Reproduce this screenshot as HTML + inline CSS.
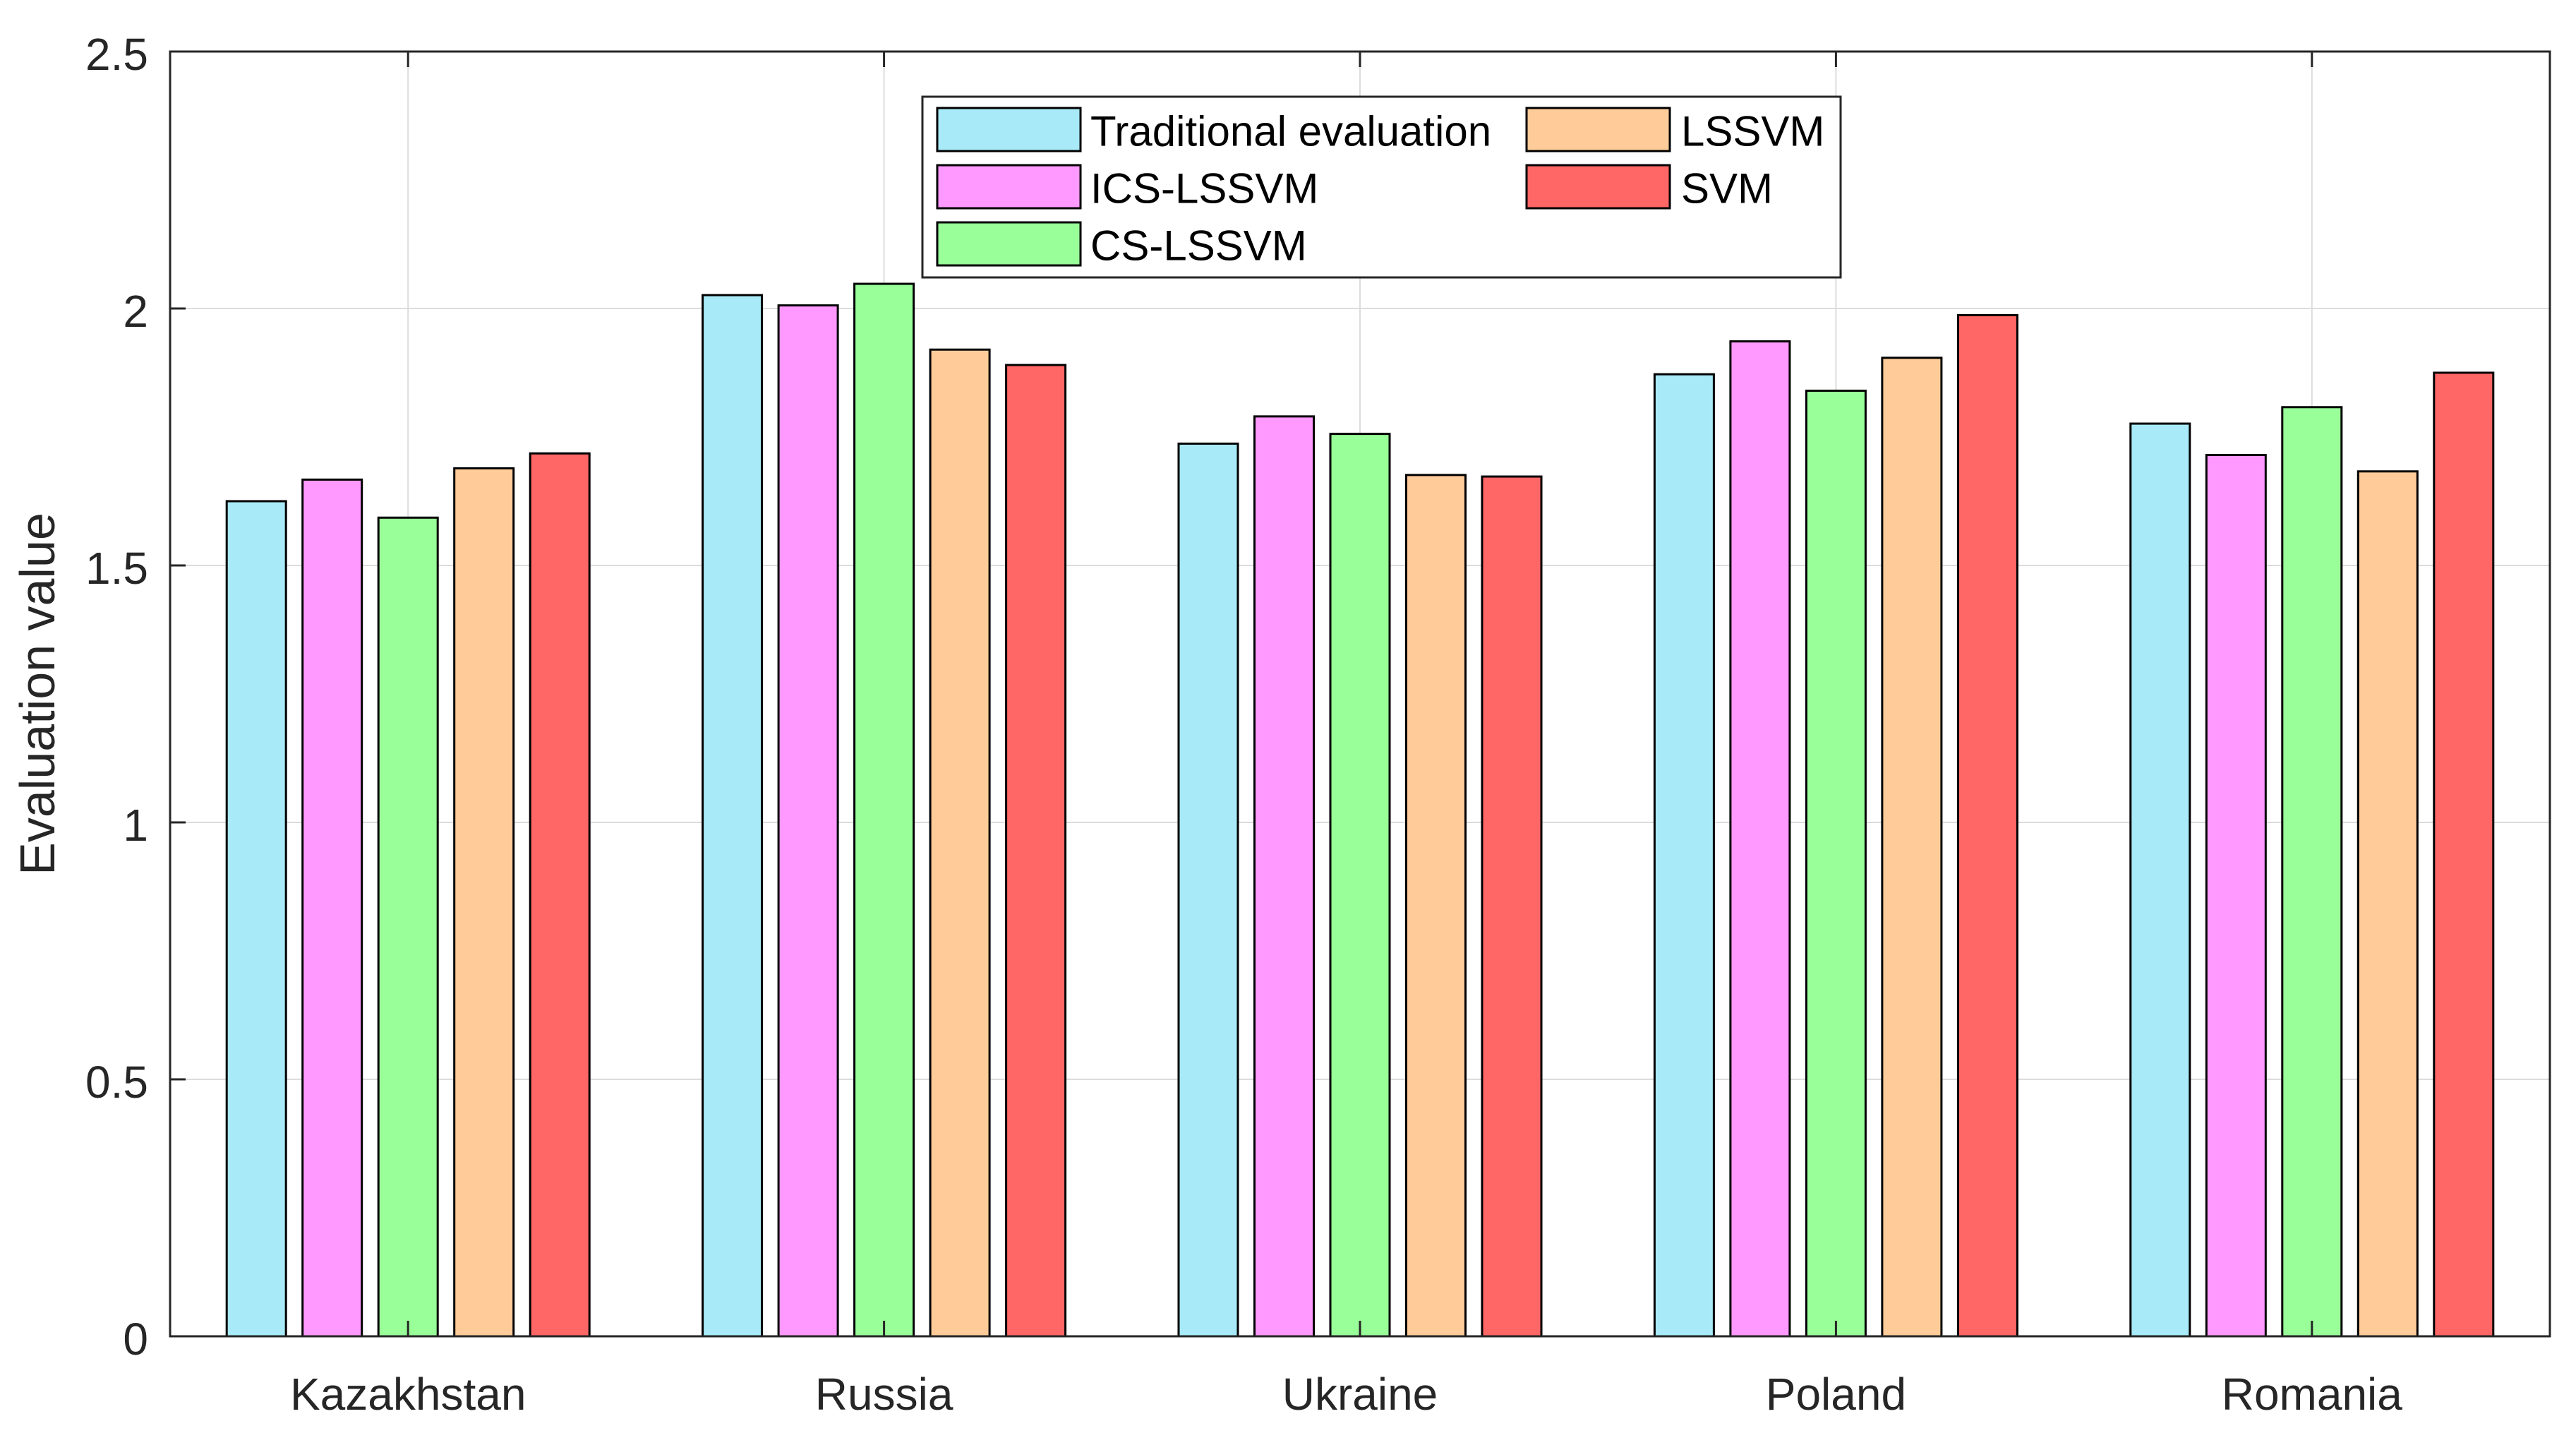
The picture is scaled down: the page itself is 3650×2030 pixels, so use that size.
<!DOCTYPE html>
<html><head><meta charset="utf-8"><style>
html,body{margin:0;padding:0;background:#fff;}
svg{display:block;font-family:"Liberation Sans",Arial,sans-serif;}
</style></head><body>
<svg id="chart" width="3650" height="2030" viewBox="0 0 3650 2030" xmlns="http://www.w3.org/2000/svg">
<rect x="0" y="0" width="3650" height="2030" fill="#fff"/>
<g id="grid"></g>
<g id="bars"></g>
<g id="axes"></g>
<text x="53" y="983" font-size="70" fill="#262626" text-anchor="middle" dominant-baseline="central" transform="rotate(-90 53 983)">Evaluation value</text>
<g id="legend"></g>
</svg>
<script>
const categories = ["Kazakhstan", "Russia", "Ukraine", "Poland", "Romania"];
const seriesNames = ["Traditional evaluation", "ICS-LSSVM", "CS-LSSVM", "LSSVM", "SVM"];
const traditional = [1.625, 2.026, 1.737, 1.872, 1.776];
const icsLssvm = [1.667, 2.006, 1.790, 1.936, 1.715];
const csLssvm = [1.593, 2.048, 1.756, 1.840, 1.808];
const lssvm = [1.689, 1.920, 1.676, 1.904, 1.683];
const svm = [1.718, 1.890, 1.673, 1.987, 1.875];
const yTicks = [0, 0.5, 1, 1.5, 2, 2.5];
const yTickLabels = ["0", "0.5", "1", "1.5", "2", "2.5"];

const series = [traditional, icsLssvm, csLssvm, lssvm, svm];
const colors = ["#A8EAF8", "#FF99FF", "#99FF99", "#FFCC99", "#FF6666"];
const NS = "http://www.w3.org/2000/svg";
const L = 241, R = 3613, T = 73, B = 1893;
const yMin = 0, yMax = 2.5;
function yScale(v){ return B - (v - yMin) / (yMax - yMin) * (B - T); }
const groupW = (R - L) / categories.length;
function xCenter(i){ return L + groupW * (i + 0.5); }
const barStep = 107.5, barW = 84;
function mk(tag, attrs, parent){ const e = document.createElementNS(NS, tag); for (const k in attrs) e.setAttribute(k, attrs[k]); parent.appendChild(e); return e; }

const grid = document.getElementById('grid');
const bars = document.getElementById('bars');
const axes = document.getElementById('axes');
const legend = document.getElementById('legend');

yTicks.forEach((v, i) => {
  const y = yScale(v);
  if (v > yMin && v < yMax) {
    const g = mk('line', {x1: L, x2: R, y1: y, y2: y, stroke: '#dcdcdc', 'stroke-width': 2}, grid);
    
    
  }
  const t = mk('line', {x1: L, x2: L + 22, y1: y, y2: y, stroke: '#262626', 'stroke-width': 3}, axes);
  
  
  const lb = mk('text', {x: 210, y: y + 4, 'font-size': 64, fill: '#262626', 'text-anchor': 'end', 'dominant-baseline': 'central'}, axes);
  lb.textContent = yTickLabels[i];
  
  
});

categories.forEach((c, i) => {
  const x = xCenter(i);
  const g = mk('line', {x1: x, x2: x, y1: T, y2: B, stroke: '#dcdcdc', 'stroke-width': 2}, grid);
  
  
  series.forEach((s, j) => {
    const cx = x + (j - 2) * barStep;
    const y = yScale(s[i]);
    const r = mk('rect', {x: cx - barW / 2, y: y, width: barW, height: B - y, fill: colors[j], stroke: '#000', 'stroke-width': 3}, bars);
    
    
  });
  const t1 = mk('line', {x1: x, x2: x, y1: B, y2: B - 22, stroke: '#262626', 'stroke-width': 3}, axes);
  
  
  const t2 = mk('line', {x1: x, x2: x, y1: T, y2: T + 22, stroke: '#262626', 'stroke-width': 3}, axes);
  
  
  const lb = mk('text', {x: x, y: 1975, 'font-size': 64, fill: '#262626', 'text-anchor': 'middle', 'dominant-baseline': 'central'}, axes);
  lb.textContent = c;
  
  
});

const frame = mk('rect', {x: L, y: T, width: R - L, height: B - T, fill: 'none', stroke: '#262626', 'stroke-width': 3}, axes);



const lbox = mk('rect', {x: 1307, y: 137, width: 1301, height: 256, fill: '#fff', stroke: '#262626', 'stroke-width': 3}, legend);


const legPos = [[1328, 153, 1545], [1328, 234, 1545], [1328, 315, 1545], [2163, 153, 2382], [2163, 234, 2382]];
seriesNames.forEach((n, j) => {
  const p = legPos[j];
  const sw = mk('rect', {x: p[0], y: p[1], width: 203, height: 61, fill: colors[j], stroke: '#000', 'stroke-width': 3}, legend);
  
  
  const tx = mk('text', {x: p[2], y: p[1] + 33, 'font-size': 60, fill: '#000', 'dominant-baseline': 'central'}, legend);
  tx.textContent = n;
  
  
});
</script>
</body></html>
